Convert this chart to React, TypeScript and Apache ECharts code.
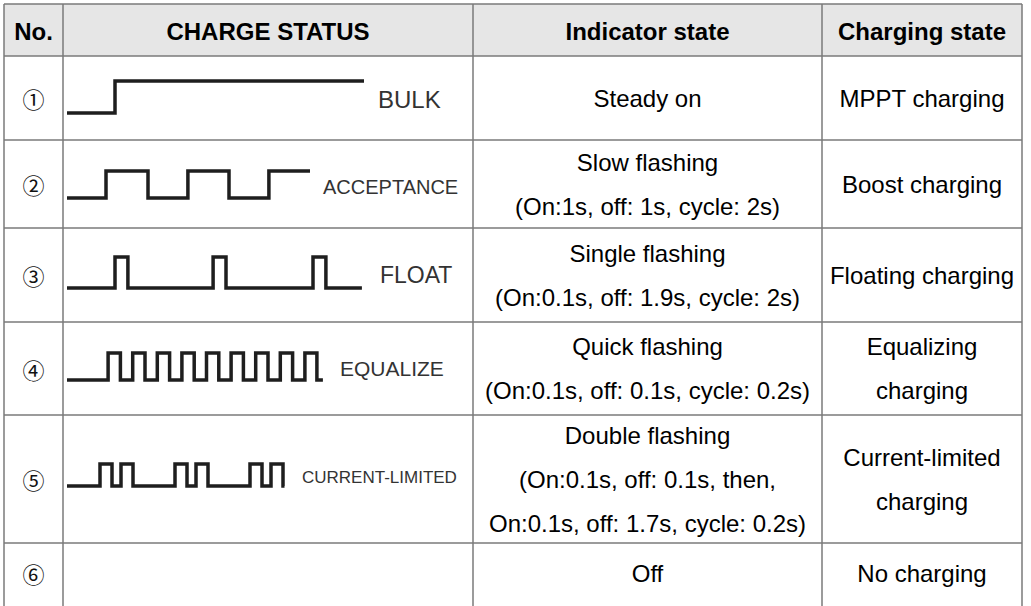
import React, { useEffect, useRef } from "react";
import * as echarts from "echarts";

// ---- table content ----
const headers = ["No.", "CHARGE STATUS", "Indicator state", "Charging state"];
const rowNumbers = ["①", "②", "③", "④", "⑤", "⑥"];
const statusLabels = ["BULK", "ACCEPTANCE", "FLOAT", "EQUALIZE", "CURRENT-LIMITED", ""];
const indicatorTexts = [
  ["Steady on"],
  ["Slow flashing", "(On:1s, off: 1s, cycle: 2s)"],
  ["Single flashing", "(On:0.1s, off: 1.9s, cycle: 2s)"],
  ["Quick flashing", "(On:0.1s, off: 0.1s, cycle: 0.2s)"],
  ["Double flashing", "(On:0.1s, off: 0.1s, then,", "On:0.1s, off: 1.7s, cycle: 0.2s)"],
  ["Off"],
];
const chargingTexts = [
  ["MPPT charging"],
  ["Boost charging"],
  ["Floating charging"],
  ["Equalizing", "charging"],
  ["Current-limited", "charging"],
  ["No charging"],
];

// ---- waveform edge times (time axis 0..100), level starts low at 0 ----
const bulkEdges = [16, 99];
const acceptanceEdges = [13, 27, 40.3, 54, 67.3, 81];
const floatEdges = [16, 20.3, 48.7, 53, 82, 86.3, 98.3];
const equalizeEdges = [13.7, 17.8, 21.9, 26, 30.1, 34.2, 38.3, 42.4, 46.5, 50.6, 54.7, 58.8, 62.9, 67, 71.1, 75.2, 79.3, 83.3, 85.3];
const currentLimitedEdges = [11, 15, 18, 22, 36, 40, 43, 47, 61, 65, 68, 72, 72.5];

const waveforms = [bulkEdges, acceptanceEdges, floatEdges, equalizeEdges, currentLimitedEdges];

// ---- layout ----
const colX = [4, 63, 473, 822, 1022];
const rowY = [4, 56, 140, 228, 322, 415, 543, 606];
const waveTop = [81, 171, 257, 353, 464];
const waveBottom = [113, 198, 288, 380, 486];
const labelX = [378, 323, 380, 340, 302];
const labelSize = [24, 20, 23, 21, 17];
const lineGap = 44;

const FONT = "'Liberation Sans', Arial, sans-serif";

function edgesToPoints(edges: number[]) {
  const pts: number[][] = [[0, 0]];
  let level = 0;
  edges.forEach((t, i) => {
    if (i === edges.length - 1) {
      pts.push([t, level]);
    } else {
      level = 1 - level;
      pts.push([t, level]);
    }
  });
  return pts;
}

export default function App() {
  const ref = useRef<HTMLDivElement>(null);
  useEffect(() => {
    if (!ref.current) return;
    const chart = echarts.init(ref.current, null, { renderer: "svg" });
    const graphics: any[] = [];
    graphics.push({
      type: "rect",
      shape: { x: colX[0], y: rowY[0], width: colX[4] - colX[0], height: rowY[1] - rowY[0] },
      style: { fill: "#e6e6e6" },
      z: 0,
    });
    const lineStyle = { stroke: "#7a7a7a", lineWidth: 1.5 };
    rowY.slice(0, 7).forEach((y) => {
      graphics.push({ type: "line", shape: { x1: colX[0], y1: y, x2: colX[4], y2: y }, style: lineStyle, z: 2 });
    });
    colX.forEach((x) => {
      graphics.push({ type: "line", shape: { x1: x, y1: rowY[0], x2: x, y2: 606 }, style: lineStyle, z: 2 });
    });
    headers.forEach((h, i) => {
      graphics.push({
        type: "text",
        x: (colX[i] + colX[i + 1]) / 2,
        y: (rowY[0] + rowY[1]) / 2 + 1,
        style: { text: h, font: `bold 24px ${FONT}`, fill: "#000", align: "center", verticalAlign: "middle" },
        z: 3,
      });
    });
    rowNumbers.forEach((n, r) => {
      const cy = r === 5 ? 573 : (rowY[r + 1] + rowY[r + 2]) / 2;
      graphics.push({
        type: "text",
        x: (colX[0] + colX[1]) / 2,
        y: cy,
        style: { text: n, font: `22px 'Noto Sans CJK JP', 'Noto Sans CJK SC', serif`, fill: "#111", align: "center", verticalAlign: "middle" },
        z: 3,
      });
      if (statusLabels[r]) {
        graphics.push({
          type: "text",
          x: labelX[r],
          y: (waveTop[r] + waveBottom[r]) / 2 + 2,
          style: { text: statusLabels[r], font: `${labelSize[r]}px ${FONT}`, fill: "#333", align: "left", verticalAlign: "middle" },
          z: 3,
        });
      }
      const lines = indicatorTexts[r];
      lines.forEach((t, k) => {
        graphics.push({
          type: "text",
          x: (colX[2] + colX[3]) / 2,
          y: cy + (k - (lines.length - 1) / 2) * lineGap,
          style: { text: t, font: `24px ${FONT}`, fill: "#000", align: "center", verticalAlign: "middle" },
          z: 3,
        });
      });
      const cl = chargingTexts[r];
      cl.forEach((t, k) => {
        graphics.push({
          type: "text",
          x: (colX[3] + colX[4]) / 2,
          y: cy + (k - (cl.length - 1) / 2) * lineGap,
          style: { text: t, font: `24px ${FONT}`, fill: "#000", align: "center", verticalAlign: "middle" },
          z: 3,
        });
      });
    });

    const grids = waveforms.map((_, i) => ({
      left: 67,
      width: 300,
      top: waveTop[i],
      height: waveBottom[i] - waveTop[i],
      containLabel: false,
    }));
    const xAxes = waveforms.map((_, i) => ({ type: "value", gridIndex: i, min: 0, max: 100, show: false }));
    const yAxes = waveforms.map((_, i) => ({ type: "value", gridIndex: i, min: 0, max: 1, show: false }));
    const series = waveforms.map((edges, i) => ({
      type: "line",
      xAxisIndex: i,
      yAxisIndex: i,
      data: edgesToPoints(edges),
      step: "end",
      symbol: "none",
      clip: false,
      lineStyle: { color: "#1e1e1e", width: 3.5, join: "miter", cap: "butt" },
      silent: true,
    }));

    chart.setOption({
      animation: false,
      backgroundColor: "#ffffff",
      grid: grids,
      xAxis: xAxes,
      yAxis: yAxes,
      series,
      graphic: graphics,
    });
    return () => chart.dispose();
  }, []);
  return (
    <div
      ref={ref}
      style={{ position: "fixed", left: 0, top: 0, width: 1031, height: 606 }}
    />
  );
}
